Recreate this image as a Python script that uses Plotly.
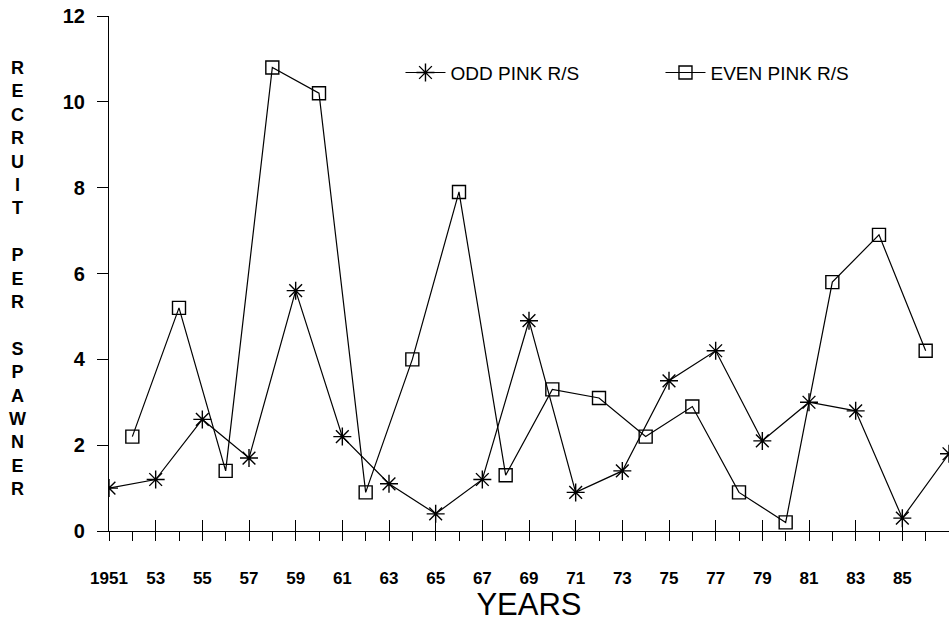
import plotly.graph_objects as go

# ---- data ----
odd_years = list(range(1951, 1988, 2))
odd_rs = [1.0, 1.2, 2.6, 1.7, 5.6, 2.2, 1.1, 0.4, 1.2, 4.9,
          0.9, 1.4, 3.5, 4.2, 2.1, 3.0, 2.8, 0.3, 1.8]
even_years = list(range(1952, 1987, 2))
even_rs = [2.2, 5.2, 1.4, 10.8, 10.2, 0.9, 4.0, 7.9, 1.3, 3.3,
           3.1, 2.2, 2.9, 0.9, 0.2, 5.8, 6.9, 4.2]

all_years = list(range(1951, 1988))
x_tick_text = ["1951" if y == 1951 else (f"{y % 100:02d}" if (y % 2 == 1 and y < 1987) else "")
               for y in all_years]
odd_tick_years = list(range(1953, 1988, 2))
y_tick_vals = [0, 2, 4, 6, 8, 10, 12]
y_title_letters = ["R", "E", "C", "R", "U", "I", "T", " ", "P", "E", "R", " ",
                   "S", "P", "A", "W", "N", "E", "R"]

FONT = "Liberation Sans, Arial, Helvetica, sans-serif"

fig = go.Figure()
fig.add_trace(go.Scatter(
    x=odd_years, y=odd_rs, mode="lines+markers", name="ODD PINK R/S",
    line=dict(color="black", width=1.2),
    marker=dict(symbol="asterisk-open", size=15, color="black",
                line=dict(color="black", width=1.4)),
))
fig.add_trace(go.Scatter(
    x=even_years, y=even_rs, mode="lines+markers", name="EVEN PINK R/S",
    line=dict(color="black", width=1.2),
    marker=dict(symbol="square-open", size=13, color="black",
                line=dict(color="black", width=1.4)),
))
# empty trace to carry the overlay axis used for the taller odd-year ticks
fig.add_trace(go.Scatter(x=[], y=[], xaxis="x2", yaxis="y", showlegend=False,
                         hoverinfo="skip"))

fig.update_layout(
    width=949, height=622,
    margin=dict(l=109, r=0, t=16, b=91),
    paper_bgcolor="white", plot_bgcolor="white",
    font=dict(family=FONT, color="black"),
    showlegend=True,
    legend=dict(orientation="h", x=0.347, y=0.89, xanchor="left", yanchor="middle",
                font=dict(size=19, family=FONT, color="black"),
                bgcolor="rgba(0,0,0,0)", entrywidth=205, itemwidth=40,
                tracegroupgap=0),
    xaxis=dict(
        range=[1951, 1987], showgrid=False, zeroline=False,
        showline=True, linecolor="black", linewidth=1.2,
        tickmode="array", tickvals=all_years, ticktext=x_tick_text,
        ticks="outside", ticklen=9, tickwidth=1, tickcolor="black",
        tickfont=dict(size=17, weight="bold", family=FONT, color="black"),
        ticklabelstandoff=22,
        title=dict(text="YEARS", font=dict(size=31, family=FONT, color="black"),
                   standoff=4),
    ),
    xaxis2=dict(
        range=[1951, 1987], overlaying="x", anchor="y", side="bottom",
        showgrid=False, zeroline=False, showline=False,
        tickmode="array", tickvals=odd_tick_years, showticklabels=False,
        ticks="inside", ticklen=11, tickwidth=1, tickcolor="black",
    ),
    yaxis=dict(
        range=[0, 12], showgrid=False, zeroline=False,
        showline=True, linecolor="black", linewidth=1.2,
        tickmode="array", tickvals=y_tick_vals,
        ticks="outside", ticklen=11, tickwidth=1, tickcolor="black",
        tickfont=dict(size=20, weight="bold", family=FONT, color="black"),
        ticklabelstandoff=8,
    ),
)

fig.add_annotation(
    text="<br>".join(y_title_letters),
    xref="paper", yref="paper", x=-0.109, y=0.49,
    xanchor="center", yanchor="middle", showarrow=False, align="center",
    font=dict(size=18, weight="bold", family=FONT, color="black"),
)

fig.write_html("out.html")
